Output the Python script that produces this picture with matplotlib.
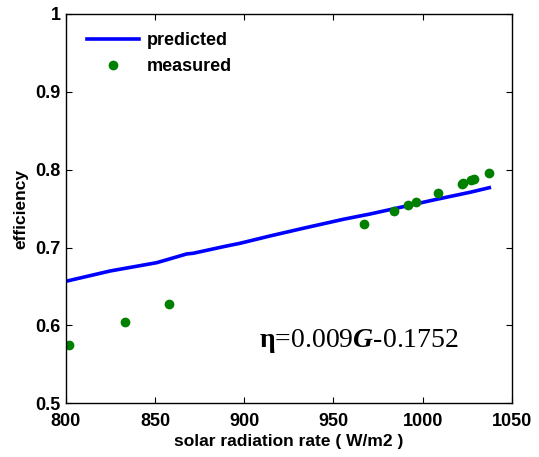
import numpy as np
import matplotlib
matplotlib.use('Agg')
import matplotlib.pyplot as plt

plt.rcParams['font.family'] = ['Liberation Sans', 'DejaVu Sans']
plt.rcParams['mathtext.fontset'] = 'custom'
plt.rcParams['mathtext.rm'] = 'Liberation Serif'
plt.rcParams['mathtext.bf'] = 'Liberation Serif:bold'
plt.rcParams['mathtext.it'] = 'Liberation Serif:italic'
plt.rcParams['mathtext.bfit'] = 'Liberation Serif:bold:italic'

# predicted curve
pred_g = [800.7, 824.7, 850.9, 867.7, 871.4, 888.2, 897.6, 914.4, 933.1,
          955.5, 970.5, 989.2, 1007.9, 1026.6, 1037.4]
pred_eff = [0.6571, 0.6699, 0.6806, 0.6918, 0.6927, 0.7011, 0.7055, 0.7149,
            0.7248, 0.7363, 0.7431, 0.7525, 0.7620, 0.7710, 0.7769]

# measured points
meas_g = [801.5, 833.1, 857.9, 967.1, 984.0, 992.0, 996.3, 1008.8,
          1021.9, 1022.8, 1027.1, 1028.7, 1037.1]
meas_eff = [0.5745, 0.6044, 0.6271, 0.7303, 0.7470, 0.7547, 0.7587, 0.7697,
            0.7813, 0.7833, 0.7864, 0.7880, 0.7962]

xticks = [800, 850, 900, 950, 1000, 1050]
yticks = [0.5, 0.6, 0.7, 0.8, 0.9, 1.0]
ytick_labels = ['0.5', '0.6', '0.7', '0.8', '0.9', '1']

fig = plt.figure(figsize=(5.39, 4.57), dpi=100)
ax = fig.add_axes([0.1224, 0.1175, 0.827, 0.8519])

ax.plot(pred_g, pred_eff, color='#0000ff', lw=2.6, label='predicted')
ax.plot(meas_g, meas_eff, 'o', color='#008000', ms=6, mec='#008000',
        label='measured')

ax.set_xlim(800, 1050)
ax.set_ylim(0.5, 1.0)
ax.set_xticks(xticks)
ax.set_xticklabels([str(t) for t in xticks])
ax.set_yticks(yticks)
ax.set_yticklabels(ytick_labels)
ax.tick_params(direction='in', top=True, right=True, length=4, width=0.8,
               labelsize=13)
ax.tick_params(axis='x', pad=7)
ax.tick_params(axis='y', pad=4)
for lab in ax.get_xticklabels() + ax.get_yticklabels():
    lab.set_fontweight('bold')
for s in ax.spines.values():
    s.set_linewidth(1.0)

ax.set_xlabel('solar radiation rate ( W/m2 )', fontsize=12.5, fontweight='bold',
              labelpad=3)
ax.set_ylabel('efficiency', fontsize=12.5, fontweight='bold', labelpad=5)

leg = ax.legend(loc='upper left', bbox_to_anchor=(0.009, 0.998), frameon=False,
                prop={'weight': 'bold', 'size': 13}, handlelength=2.9,
                handletextpad=0.4, borderaxespad=0.55, labelspacing=0.5,
                numpoints=1)

ax.text(0.433, 0.16,
        r'$\mathbf{\eta}\text{=0.009}\mathbfit{G}\text{-0.1752}$',
        transform=ax.transAxes, fontsize=20, ha='left', va='center')

fig.savefig('out.png', dpi=100)
